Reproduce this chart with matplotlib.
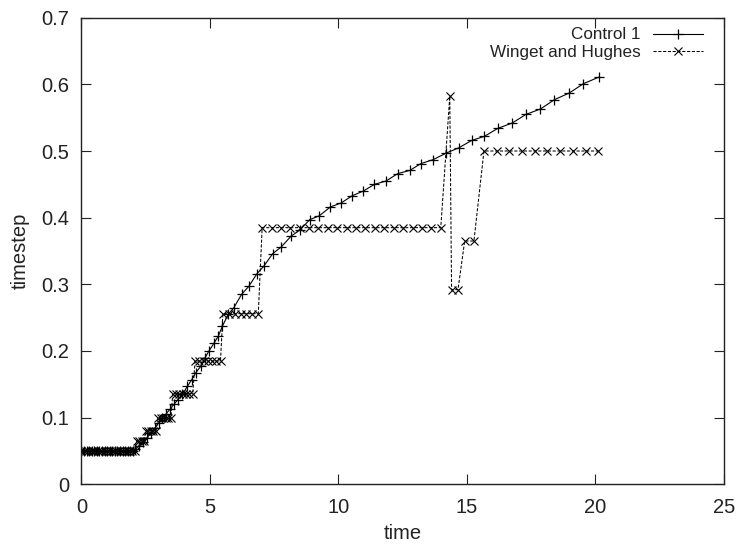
import matplotlib
matplotlib.use("Agg")
import matplotlib.pyplot as plt

# Control 1 series
control_t = [0.0, 0.1, 0.2, 0.3, 0.4, 0.5, 0.6, 0.7, 0.8, 0.9, 1.0, 1.1, 1.2, 1.3,
             1.4, 1.5, 1.6, 1.7, 1.8, 1.9, 2.0,
             2.1, 2.25, 2.4, 2.55, 2.7, 2.85, 3.0, 3.15, 3.3, 3.45, 3.6, 3.75, 3.93,
             4.12, 4.29, 4.44, 4.64, 4.81, 4.96, 5.16, 5.32, 5.48, 5.71, 5.93, 6.23,
             6.51, 6.83, 7.09, 7.44, 7.77, 8.15, 8.51, 8.88, 9.26, 9.68, 10.1, 10.54,
             10.97, 11.4, 11.85, 12.3, 12.78, 13.2, 13.68, 14.2, 14.69, 15.19, 15.68,
             16.2, 16.76, 17.3, 17.86, 18.4, 18.98, 19.53, 20.14]
control_v = [0.05, 0.05, 0.05, 0.05, 0.05, 0.05, 0.05, 0.05, 0.05, 0.05, 0.05, 0.05,
             0.05, 0.05, 0.05, 0.05, 0.05, 0.05, 0.05, 0.05, 0.05,
             0.053, 0.058, 0.064, 0.07, 0.077, 0.084, 0.092, 0.099, 0.106, 0.113,
             0.12, 0.127, 0.135, 0.147, 0.157, 0.167, 0.177, 0.19, 0.2, 0.212,
             0.222, 0.237, 0.255, 0.265, 0.285, 0.297, 0.316, 0.327, 0.346, 0.356,
             0.372, 0.382, 0.397, 0.403, 0.416, 0.422, 0.433, 0.44, 0.45, 0.455,
             0.466, 0.471, 0.481, 0.487, 0.497, 0.505, 0.516, 0.522, 0.534, 0.542,
             0.555, 0.563, 0.577, 0.587, 0.601, 0.611]

# Winget and Hughes series
winget_t = [0.0, 0.09, 0.18, 0.27, 0.36, 0.45, 0.54, 0.63, 0.72, 0.81, 0.9, 0.99,
            1.08, 1.17, 1.26, 1.35, 1.44, 1.53, 1.62, 1.71, 1.8, 1.89, 1.98, 2.07,
            2.15, 2.25, 2.35, 2.44,
            2.5, 2.6, 2.7, 2.8, 2.9,
            2.98, 3.08, 3.18, 3.28, 3.38, 3.48,
            3.55, 3.68, 3.81, 3.94, 4.07, 4.2, 4.33,
            4.42, 4.59, 4.75, 4.92, 5.08, 5.25, 5.41,
            5.5, 5.73, 5.96, 6.19, 6.42, 6.65, 6.88,
            7.03, 7.4, 7.76, 8.13, 8.49, 8.86, 9.22, 9.59, 9.96, 10.32, 10.69,
            11.05, 11.42, 11.78, 12.15, 12.52, 12.88, 13.25, 13.61, 13.98,
            14.33, 14.4, 14.65, 14.91, 15.27,
            15.66, 16.15, 16.65, 17.14, 17.64, 18.13, 18.63, 19.12, 19.62, 20.11]
winget_v = [0.05, 0.05, 0.05, 0.05, 0.05, 0.05, 0.05, 0.05, 0.05, 0.05,
            0.05, 0.05, 0.05, 0.05, 0.05, 0.05, 0.05, 0.05, 0.05, 0.05, 0.05,
            0.05, 0.05, 0.05,
            0.065, 0.065, 0.065, 0.065,
            0.08, 0.08, 0.08, 0.08, 0.08,
            0.099, 0.099, 0.099, 0.099, 0.099, 0.099,
            0.136, 0.136, 0.136, 0.136, 0.136, 0.136, 0.136,
            0.185, 0.185, 0.185, 0.185, 0.185, 0.185, 0.185,
            0.256, 0.256, 0.256, 0.256, 0.256, 0.256, 0.256,
            0.385, 0.385, 0.385, 0.385, 0.385, 0.385, 0.385, 0.385, 0.385, 0.385,
            0.385, 0.385, 0.385, 0.385, 0.385, 0.385, 0.385, 0.385, 0.385, 0.385,
            0.582, 0.292, 0.292, 0.365, 0.365,
            0.5, 0.5, 0.5, 0.5, 0.5, 0.5, 0.5, 0.5, 0.5, 0.5]

x_ticks = [0, 5, 10, 15, 20, 25]
y_ticks = [0, 0.1, 0.2, 0.3, 0.4, 0.5, 0.6, 0.7]

plt.rcParams['font.family'] = ['Liberation Sans', 'DejaVu Sans']

fig = plt.figure(figsize=(7.36, 5.44), dpi=100)
ax = fig.add_axes([0.1107, 0.1097, 0.9837 - 0.1107, 0.9675 - 0.1097])

ax.plot(control_t, control_v, color='black', lw=0.8, marker='+', ms=7,
        mew=0.9, label='Control 1')
ax.plot(winget_t, winget_v, color='black', lw=0.75, ls=(0, (3, 1.6)), marker='x',
        ms=6, mew=0.8, label='Winget and Hughes')

ax.set_xlim(0, 25)
ax.set_ylim(0, 0.7)
ax.set_xticks(x_ticks)
ax.set_yticks(y_ticks)
ax.set_xticklabels([str(v) for v in x_ticks])
ax.set_yticklabels(['0' if v == 0 else f'{v:.1f}' for v in y_ticks])
ax.tick_params(direction='in', length=7, width=0.8, top=True, right=True,
               labelsize=14.5, colors='#222222')
ax.tick_params(axis='x', pad=10)
ax.tick_params(axis='y', pad=9)
for s in ax.spines.values():
    s.set_linewidth(1.0)
    s.set_color('#222222')

ax.set_xlabel('time', fontsize=14.5, labelpad=5, color='#222222')
ax.set_ylabel('timestep', fontsize=14.5, labelpad=8, color='#222222')

leg = ax.legend(loc='upper right', bbox_to_anchor=(0.967, 0.979), frameon=False,
                markerfirst=False, fontsize=12.3, handlelength=2.9,
                handletextpad=0.75, borderpad=0, borderaxespad=0,
                labelspacing=0.12, numpoints=1)
for t in leg.get_texts():
    t.set_color('#222222')

fig.savefig('out.png', dpi=100)
